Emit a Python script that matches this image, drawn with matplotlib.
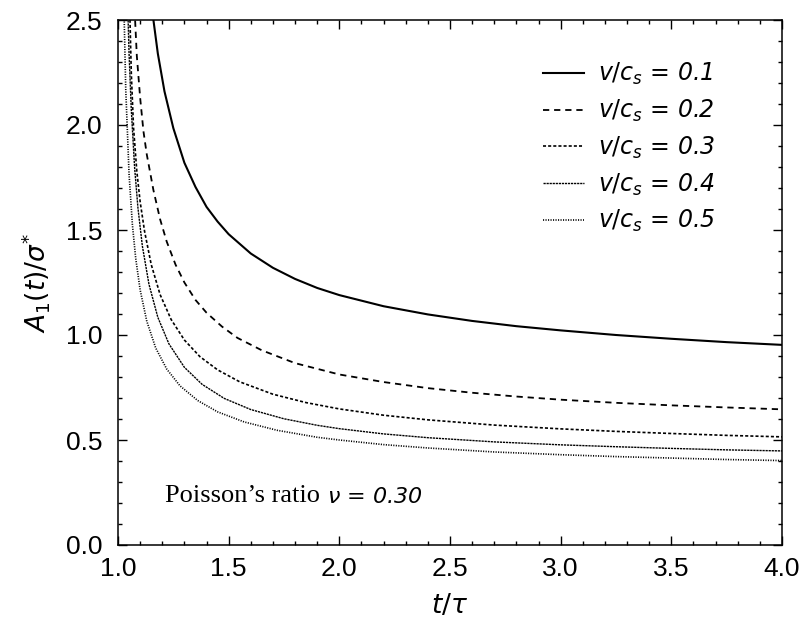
import matplotlib
matplotlib.use("Agg")
import matplotlib.pyplot as plt
from matplotlib.ticker import MultipleLocator

# ---- data ----
speeds = ["0.1", "0.2", "0.3", "0.4", "0.5"]

t_01 = [1.15, 1.18, 1.21, 1.25, 1.30, 1.35, 1.40, 1.45, 1.50, 1.60, 1.70, 1.80, 1.90, 2.00, 2.20, 2.40, 2.60, 2.80, 3.00, 3.25, 3.50, 3.75, 4.00]
y_01 = [2.58, 2.34, 2.16, 1.985, 1.82, 1.705, 1.61, 1.54, 1.48, 1.388, 1.32, 1.267, 1.224, 1.19, 1.137, 1.098, 1.067, 1.042, 1.022, 1.00, 0.982, 0.966, 0.953]

t_02 = [1.075, 1.085, 1.10, 1.115, 1.13, 1.16, 1.19, 1.22, 1.26, 1.30, 1.35, 1.40, 1.47, 1.54, 1.65, 1.80, 2.00, 2.20, 2.40, 2.60, 2.80, 3.00, 3.25, 3.50, 3.75, 4.00]
y_02 = [2.55, 2.33, 2.13, 1.97, 1.86, 1.69, 1.552, 1.445, 1.335, 1.25, 1.167, 1.106, 1.04, 0.986, 0.927, 0.866, 0.812, 0.776, 0.747, 0.725, 0.707, 0.692, 0.677, 0.665, 0.655, 0.646]

t_03 = [1.053, 1.06, 1.07, 1.085, 1.10, 1.12, 1.15, 1.19, 1.24, 1.30, 1.37, 1.45, 1.55, 1.70, 1.85, 2.00, 2.20, 2.40, 2.70, 3.00, 3.25, 3.50, 3.75, 4.00]
y_03 = [2.55, 2.25, 1.99, 1.78, 1.635, 1.494, 1.336, 1.193, 1.074, 0.976, 0.897, 0.834, 0.777, 0.718, 0.678, 0.648, 0.618, 0.596, 0.571, 0.553, 0.541, 0.531, 0.522, 0.515]

t_04 = [1.042, 1.05, 1.06, 1.075, 1.09, 1.11, 1.14, 1.18, 1.23, 1.30, 1.38, 1.48, 1.60, 1.75, 1.90, 2.00, 2.20, 2.40, 2.70, 3.00, 3.25, 3.50, 3.75, 4.00]
y_04 = [2.64, 2.34, 2.074, 1.798, 1.606, 1.424, 1.241, 1.084, 0.958, 0.846, 0.765, 0.698, 0.645, 0.601, 0.570, 0.554, 0.529, 0.511, 0.491, 0.477, 0.468, 0.460, 0.453, 0.448]

t_05 = [1.025, 1.035, 1.05, 1.065, 1.08, 1.10, 1.13, 1.17, 1.22, 1.28, 1.36, 1.45, 1.57, 1.72, 1.90, 2.00, 2.20, 2.40, 2.70, 3.00, 3.25, 3.50, 3.75, 4.00]
y_05 = [2.65, 2.17, 1.765, 1.526, 1.365, 1.215, 1.066, 0.939, 0.838, 0.758, 0.688, 0.634, 0.586, 0.546, 0.513, 0.500, 0.478, 0.462, 0.443, 0.430, 0.421, 0.414, 0.407, 0.402]

x_ticks = [1.0, 1.5, 2.0, 2.5, 3.0, 3.5, 4.0]
y_ticks = [0.0, 0.5, 1.0, 1.5, 2.0, 2.5]

plt.rcParams['lines.scale_dashes'] = False
plt.rcParams['mathtext.fontset'] = 'dejavusans'

fig = plt.figure(figsize=(8.12, 6.33), dpi=100)
ax = fig.add_axes([118/812, (633-545)/633, 664/812, 525/633])

series = [(t_01, y_01), (t_02, y_02), (t_03, y_03), (t_04, y_04), (t_05, y_05)]
styles = [
    dict(ls='-', lw=1.5),
    dict(ls=(0, (4.5, 3.5)), lw=1.3),
    dict(ls=(0, (2.2, 1.5)), lw=1.2),
    dict(ls=(0, (1.6, 0.6)), lw=1.0),
    dict(ls=(0, (0.8, 1.0)), lw=1.2),
]
for (t, y), s, sp in zip(series, styles, speeds):
    ax.plot(t, y, color='black', label=r'$v/c_s$ = ' + sp, **s)

ax.set_xlim(1.0, 4.0)
ax.set_ylim(0.0, 2.5)
ax.set_xticks(x_ticks)
ax.set_yticks(y_ticks)
ax.set_xticklabels([f"{v:.1f}" for v in x_ticks])
ax.set_yticklabels([f"{v:.1f}" for v in y_ticks])
ax.xaxis.set_minor_locator(MultipleLocator(0.1))
ax.yaxis.set_minor_locator(MultipleLocator(0.1))
ax.tick_params(which='both', direction='in', top=True, right=True, width=1.0)
ax.tick_params(which='major', length=6.5, labelsize=19)
ax.tick_params(axis='y', which='major', pad=11)
ax.tick_params(axis='x', which='major', pad=9)
ax.tick_params(which='minor', length=3.2)
for lab in ax.get_xticklabels() + ax.get_yticklabels():
    lab.set_family('Liberation Sans')
for sp_ in ax.spines.values():
    sp_.set_linewidth(1.1)

ax.set_xlabel(r'$t/\tau$', fontsize=19, labelpad=8)
ax.set_ylabel(r'$A_1(t)/\sigma^{*}$', fontsize=19, labelpad=10)

leg = ax.legend(loc='upper left', bbox_to_anchor=(0.64, 0.922), frameon=False,
                prop={'family': 'DejaVu Sans', 'style': 'italic', 'size': 17},
                handlelength=1.75, handletextpad=0.6, labelspacing=0.45,
                borderpad=0, borderaxespad=0)

t1 = ax.text(1.212, 0.205, 'Poisson\u2019s ratio', family='Liberation Serif',
             fontsize=19, va='baseline', ha='left')
ax.annotate(r' $\nu$ = 0.30', xy=(1, 0), xycoords=t1, va='bottom', ha='left',
            fontsize=16, style='italic', family='DejaVu Sans')

fig.savefig('out.png', dpi=100)
